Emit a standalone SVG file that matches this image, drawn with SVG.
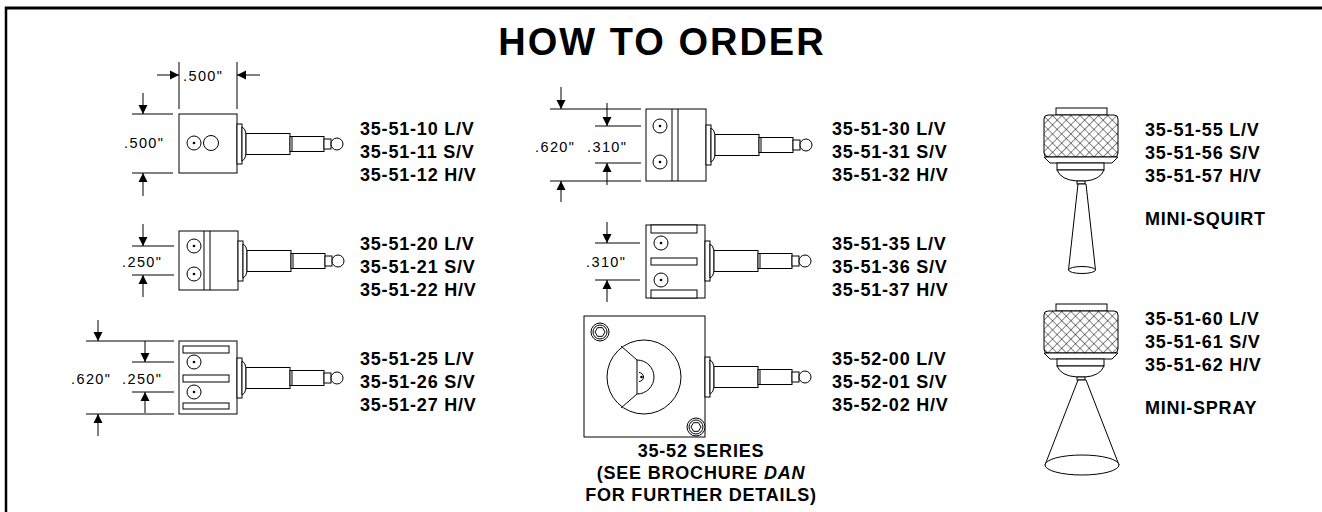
<svg xmlns="http://www.w3.org/2000/svg" width="1322" height="512" viewBox="0 0 1322 512">
<style>
.s{fill:#fff;stroke:#000;stroke-width:1}
.n{fill:none;stroke:#000;stroke-width:1}
.lbl{font-family:"Liberation Sans",Arial,sans-serif;font-weight:bold;font-size:18px;letter-spacing:0.8px;fill:#000}
.dim{font-family:"Liberation Sans",Arial,sans-serif;font-size:14.5px;letter-spacing:1.4px;fill:#000}
.dl{stroke:#000;stroke-width:1;fill:none}
.ar{stroke:#000;stroke-width:1;fill:none;marker-end:url(#ah)}
</style>
<defs>
<marker id="ah" viewBox="0 0 10 10" refX="10" refY="5" markerWidth="9" markerHeight="10" orient="auto" markerUnits="userSpaceOnUse"><path d="M0,0 L10,5 L0,10z" fill="#000"/></marker>
<g id="shaft">
<rect class="s" x="0" y="-20" width="5" height="40"/>
<path class="s" d="M5,-17 Q8,-16 9,-10.5 L9,10.5 Q8,16 5,17z"/>
<rect class="s" x="9" y="-10.5" width="44" height="21"/>
<rect class="s" x="53" y="-7.5" width="34" height="15"/>
<line class="n" x1="55" y1="-7.5" x2="55" y2="7.5"/>
<rect class="s" x="87" y="-5" width="7" height="10"/>
<circle class="s" cx="100" cy="0" r="6"/>
</g>
<g id="port">
<circle class="s" cx="0" cy="0" r="7"/>
<circle cx="0" cy="0" r="1.3" fill="#000"/>
</g>
<g id="hex">
<circle class="s" cx="0" cy="0" r="9"/>
<circle class="n" cx="0" cy="0" r="7"/>
<path class="n" d="M5,0 L2.5,4.33 L-2.5,4.33 L-5,0 L-2.5,-4.33 L2.5,-4.33z"/>
</g>
<pattern id="knurl" width="6.5" height="6.5" patternUnits="userSpaceOnUse" patternTransform="rotate(45)">
<rect width="6.5" height="6.5" fill="#fff"/>
<path d="M0,0 H6.5 M0,0 V6.5" stroke="#000" stroke-width="0.9"/>
</pattern>
<g id="head">
<rect class="s" x="1056" y="108" width="51" height="7"/>
<rect x="1044" y="115" width="74" height="42" rx="4" fill="url(#knurl)" stroke="#000" stroke-width="1"/>
<path class="s" d="M1044,157 L1050,163 L1112,163 L1118,157z"/>
<rect class="s" x="1057" y="163" width="47" height="7"/>
<path class="s" d="M1057,170 Q1061,180 1077,181 L1085,181 Q1100,180 1104,170z"/>
<rect class="s" x="1077" y="181" width="8" height="3"/>
</g>
</defs>
<rect width="1322" height="512" fill="#fff"/>
<g id="border">
<line x1="5" y1="8" x2="1322" y2="8" stroke="#000" stroke-width="3"/>
<line x1="6" y1="7" x2="6" y2="512" stroke="#000" stroke-width="2.5"/>
</g>
<text x="662" y="55" text-anchor="middle" font-family="'Liberation Sans',Arial,sans-serif" font-weight="bold" font-size="38" letter-spacing="2">HOW TO ORDER</text>

<g id="n-35-51-10">
<rect class="s" x="179" y="114" width="58" height="59"/>
<use href="#port" x="194" y="143"/>
<circle class="s" cx="211" cy="143" r="7.5"/>
<use href="#shaft" transform="translate(237,144)"/>
<text class="lbl" x="360" y="135">35-51-10 L/V</text>
<text class="lbl" x="360" y="158">35-51-11 S/V</text>
<text class="lbl" x="360" y="181">35-51-12 H/V</text>
</g>

<g id="n-35-51-20">
<rect class="s" x="179" y="231" width="59" height="59"/>
<line class="n" x1="204" y1="231" x2="204" y2="290"/>
<line class="n" x1="210" y1="231" x2="210" y2="290"/>
<use href="#port" x="194" y="246"/>
<use href="#port" x="194" y="274"/>
<use href="#shaft" transform="translate(238,261)"/>
<text class="lbl" x="360" y="250">35-51-20 L/V</text>
<text class="lbl" x="360" y="273">35-51-21 S/V</text>
<text class="lbl" x="360" y="296">35-51-22 H/V</text>
</g>

<g id="n-35-51-25">
<rect class="s" x="179" y="341" width="58" height="73"/>
<rect class="s" x="183" y="346" width="46" height="7"/>
<rect class="s" x="183" y="375" width="46" height="7"/>
<rect class="s" x="183" y="403" width="46" height="6"/>
<use href="#port" x="194" y="362"/>
<use href="#port" x="194" y="392"/>
<use href="#shaft" transform="translate(237,378)"/>
<text class="lbl" x="360" y="365">35-51-25 L/V</text>
<text class="lbl" x="360" y="388">35-51-26 S/V</text>
<text class="lbl" x="360" y="411">35-51-27 H/V</text>
</g>

<g id="n-35-51-30">
<rect class="s" x="646" y="109" width="60" height="72"/>
<line class="n" x1="672" y1="109" x2="672" y2="181"/>
<line class="n" x1="678" y1="109" x2="678" y2="181"/>
<use href="#port" x="660" y="126"/>
<use href="#port" x="660" y="162"/>
<use href="#shaft" transform="translate(706,145)"/>
<text class="lbl" x="832" y="135">35-51-30 L/V</text>
<text class="lbl" x="832" y="158">35-51-31 S/V</text>
<text class="lbl" x="832" y="181">35-51-32 H/V</text>
</g>

<g id="n-35-51-35">
<rect class="s" x="646" y="225" width="59" height="73"/>
<rect class="s" x="651" y="225" width="46" height="8"/>
<rect class="s" x="651" y="258" width="46" height="7"/>
<rect class="s" x="651" y="290" width="46" height="8"/>
<use href="#port" x="661" y="243"/>
<use href="#port" x="661" y="280"/>
<use href="#shaft" transform="translate(705,261)"/>
<text class="lbl" x="832" y="250">35-51-35 L/V</text>
<text class="lbl" x="832" y="273">35-51-36 S/V</text>
<text class="lbl" x="832" y="296">35-51-37 H/V</text>
</g>

<g id="n-35-52">
<rect class="s" x="584" y="316" width="121" height="121"/>
<circle class="s" cx="644" cy="377" r="37"/>
<path class="n" d="M637,360 A17,17 0 0 1 637,394 Z"/>
<line class="n" x1="637" y1="360" x2="621" y2="346"/>
<line class="n" x1="637" y1="394" x2="621" y2="408"/>
<path class="n" d="M639,372.5 A4.5,4.5 0 0 1 639,381.5"/>
<circle cx="641.5" cy="377" r="1.3" fill="#000"/>
<use href="#hex" x="600" y="332"/>
<use href="#hex" x="696" y="427"/>
<use href="#shaft" transform="translate(705,377)"/>
<text class="lbl" x="832" y="365">35-52-00 L/V</text>
<text class="lbl" x="832" y="388">35-52-01 S/V</text>
<text class="lbl" x="832" y="411">35-52-02 H/V</text>
<text class="lbl" x="701" y="457" text-anchor="middle">35-52 SERIES</text>
<text class="lbl" x="701" y="479" text-anchor="middle">(SEE BROCHURE <tspan font-style="italic">DAN</tspan></text>
<text class="lbl" x="701" y="501" text-anchor="middle">FOR FURTHER DETAILS)</text>
</g>

<g id="n-mini-squirt">
<use href="#head"/>
<path class="s" d="M1078,184 L1068.5,270 L1095.5,270 L1086,184z"/>
<ellipse class="s" cx="1082" cy="270" rx="13.5" ry="3.5"/>
<text class="lbl" x="1145" y="136">35-51-55 L/V</text>
<text class="lbl" x="1145" y="159">35-51-56 S/V</text>
<text class="lbl" x="1145" y="182">35-51-57 H/V</text>
<text class="lbl" x="1145" y="225">MINI-SQUIRT</text>
</g>

<g id="n-mini-spray">
<use href="#head" transform="translate(0,196)"/>
<path class="s" d="M1078,380 L1045,465 L1119,465 L1086,380z"/>
<ellipse class="s" cx="1082" cy="465" rx="37" ry="10"/>
<text class="lbl" x="1145" y="325">35-51-60 L/V</text>
<text class="lbl" x="1145" y="348">35-51-61 S/V</text>
<text class="lbl" x="1145" y="371">35-51-62 H/V</text>
<text class="lbl" x="1145" y="414">MINI-SPRAY</text>
</g>

<g id="dimensions">
<line class="dl" x1="179" y1="62" x2="179" y2="109"/>
<line class="dl" x1="237" y1="62" x2="237" y2="109"/>
<line class="ar" x1="157" y1="75" x2="179" y2="75"/>
<line class="ar" x1="260" y1="75" x2="237" y2="75"/>
<text class="dim" x="183" y="81">.500"</text>
<line class="dl" x1="132" y1="114" x2="173" y2="114"/>
<line class="dl" x1="132" y1="173" x2="173" y2="173"/>
<line class="ar" x1="143" y1="93" x2="143" y2="114"/>
<line class="ar" x1="143" y1="196" x2="143" y2="173"/>
<text class="dim" x="124" y="148">.500"</text>
<line class="dl" x1="132" y1="246" x2="174" y2="246"/>
<line class="dl" x1="132" y1="275" x2="174" y2="275"/>
<line class="ar" x1="143" y1="224" x2="143" y2="246"/>
<line class="ar" x1="143" y1="297" x2="143" y2="275"/>
<text class="dim" x="122" y="267">.250"</text>
<line class="dl" x1="86" y1="341" x2="174" y2="341"/>
<line class="dl" x1="86" y1="414" x2="174" y2="414"/>
<line class="dl" x1="132" y1="362" x2="174" y2="362"/>
<line class="dl" x1="132" y1="392" x2="174" y2="392"/>
<line class="ar" x1="98" y1="320" x2="98" y2="341"/>
<line class="ar" x1="98" y1="436" x2="98" y2="414"/>
<line class="ar" x1="145" y1="341" x2="145" y2="362"/>
<line class="ar" x1="145" y1="413" x2="145" y2="392"/>
<text class="dim" x="71" y="384">.620"</text>
<text class="dim" x="122" y="384">.250"</text>
<line class="dl" x1="550" y1="109" x2="641" y2="109"/>
<line class="dl" x1="550" y1="181" x2="641" y2="181"/>
<line class="dl" x1="595" y1="126" x2="641" y2="126"/>
<line class="dl" x1="595" y1="163" x2="641" y2="163"/>
<line class="ar" x1="561" y1="87" x2="561" y2="109"/>
<line class="ar" x1="561" y1="202" x2="561" y2="181"/>
<line class="ar" x1="607" y1="103" x2="607" y2="126"/>
<line class="ar" x1="607" y1="185" x2="607" y2="163"/>
<text class="dim" x="535" y="152">.620"</text>
<text class="dim" x="587" y="152">.310"</text>
<line class="dl" x1="595" y1="243" x2="640" y2="243"/>
<line class="dl" x1="595" y1="280" x2="640" y2="280"/>
<line class="ar" x1="607" y1="222" x2="607" y2="243"/>
<line class="ar" x1="607" y1="302" x2="607" y2="280"/>
<text class="dim" x="586" y="267">.310"</text>
</g>
</svg>
